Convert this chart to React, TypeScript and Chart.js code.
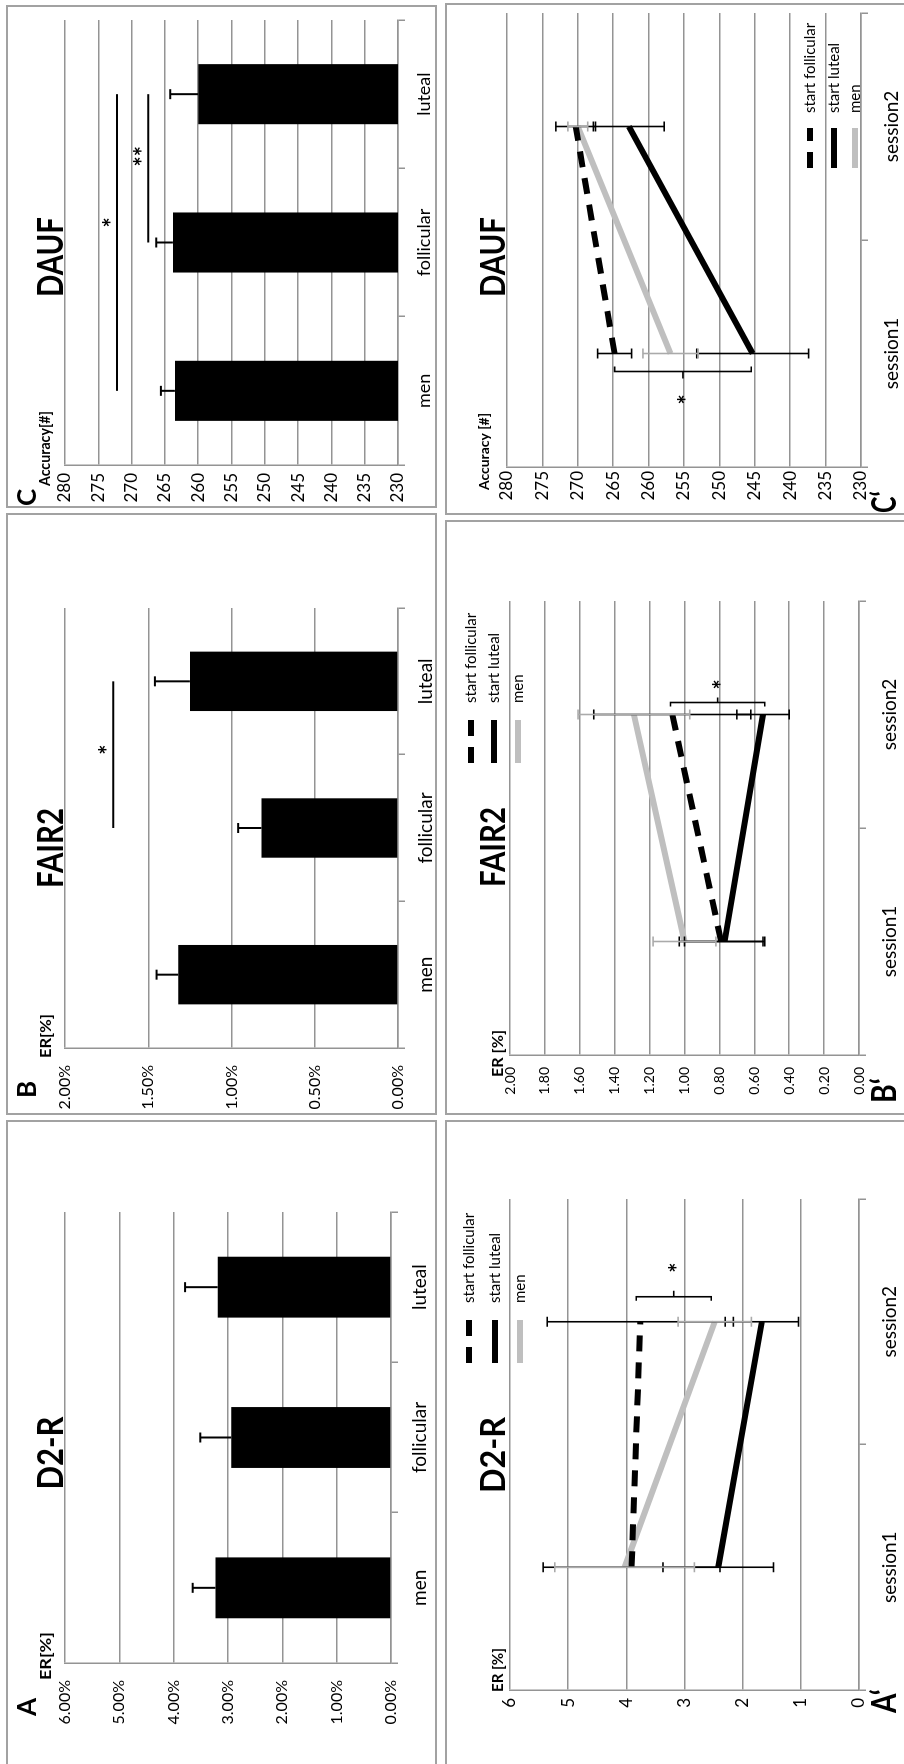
import React, { useEffect, useRef } from 'react';
import { Chart, registerables } from 'chart.js';

Chart.register(...registerables);
Chart.defaults.font.family = 'Lato, "Open Sans", sans-serif';

// ---------------- data ----------------
const barCategories = ['men', 'follicular', 'luteal'];
const sessionCategories = ['session1', 'session2'];
const seriesNames = ['start follicular', 'start luteal', 'men'];

// A: D2-R error rate [%]
const d2rBarMeans = [3.23, 2.94, 3.19];
const d2rBarErrors = [0.42, 0.57, 0.6];
// B: FAIR2 error rate [%]
const fair2BarMeans = [1.32, 0.82, 1.25];
const fair2BarErrors = [0.13, 0.14, 0.21];
// C: DAUF accuracy [#]
const daufBarMeans = [263.5, 263.8, 260.0];
const daufBarErrors = [2.1, 2.5, 4.2];

// A': D2-R sessions
const d2rFollicular = [3.91, 3.76];
const d2rFollicularErr = [1.52, 1.6];
const d2rLuteal = [2.42, 1.67];
const d2rLutealErr = [0.95, 0.63];
const d2rMen = [4.03, 2.48];
const d2rMenErr = [1.2, 0.63];
// B': FAIR2 sessions
const fair2Follicular = [0.79, 1.07];
const fair2FollicularErr = [0.24, 0.45];
const fair2Luteal = [0.77, 0.55];
const fair2LutealErr = [0.23, 0.15];
const fair2Men = [1.0, 1.29];
const fair2MenErr = [0.18, 0.32];
// C': DAUF sessions
const daufFollicular = [264.8, 270.3];
const daufFollicularErr = [2.4, 2.8];
const daufLuteal = [245.3, 262.8];
const daufLutealErr = [7.9, 5.0];
const daufMen = [256.9, 270.0];
const daufMenErr = [3.9, 1.4];

// tick values
const percentTicks6 = [0, 1, 2, 3, 4, 5, 6];
const percentTicks2 = [0, 0.5, 1, 1.5, 2];
const accuracyTicks = [230, 235, 240, 245, 250, 255, 260, 265, 270, 275, 280];
const erTicks6 = [0, 1, 2, 3, 4, 5, 6];
const erTicks2 = [0, 0.2, 0.4, 0.6, 0.8, 1.0, 1.2, 1.4, 1.6, 1.8, 2.0];

// significance annotations
const fair2BarSig = [{ from: 1, to: 2, value: 1.71, label: '*' }];
const daufBarSig = [
  { from: 0, to: 2, value: 272.2, label: '*' },
  { from: 1, to: 2, value: 267.5, label: '**' },
];
const d2rSessionSig = [{ index: 1, from: 3.83, to: 2.54, label: '*' }];
const fair2SessionSig = [{ index: 1, from: 1.08, to: 0.54, label: '*' }];
const daufSessionSig = [{ index: 0, from: 264.8, to: 245.5, label: '*' }];

// ---------------- styles ----------------
const GRID = '#949494';
const BORDER = '#a2a2a2';
const lineStyles = [
  { color: '#000000', dash: [16, 11], err: '#000000' },
  { color: '#000000', dash: [] as number[], err: '#000000' },
  { color: '#bfbfbf', dash: [] as number[], err: '#aaaaaa' },
];

type TextItem = { t: string; x: number; y: number; size: number; w?: number; center?: boolean; bold?: boolean };
type Box = { x: number; y: number; w: number; h: number };
type Area = { l: number; r: number; t: number; b: number };

interface PanelSpec {
  key: string;
  box: Box;
  area: Area;
  kind: 'bar' | 'line';
  categories: string[];
  yMin: number;
  yMax: number;
  yTicks: number[];
  yFormat: (v: number) => string;
  yTickFont: number;
  yTickPad: number;
  xTickFont: number;
  xTickPad: number;
  bars?: { values: number[]; errors: number[] };
  lines?: { values: number[][]; errors: number[][] };
  barSig?: { from: number; to: number; value: number; label: string }[];
  barSigDx?: number[];
  sessionSig?: { index: number; from: number; to: number; label: string }[];
  bracket?: { side: number; offset: number; prong: number; tick: number; star: number };
  legend?: { ys: number[]; sx1: number; sx2: number; tx: number };
  texts: TextItem[];
}

const pct = (v: number) => v.toFixed(2) + '%';

const panels: PanelSpec[] = [
  {
    key: 'A',
    box: { x: -4, y: 6, w: 648, h: 431 },
    area: { l: 101, r: 552, t: 65, b: 391 },
    kind: 'bar',
    categories: barCategories,
    yMin: 0, yMax: 6, yTicks: percentTicks6, yFormat: pct,
    yTickFont: 16, yTickPad: 17, xTickFont: 19, xTickPad: 10,
    bars: { values: d2rBarMeans, errors: d2rBarErrors },
    texts: [
      { t: 'A', x: 48, y: 36, size: 26, bold: true },
      { t: 'ER[%]', x: 84, y: 51, size: 16, bold: true, w: 48 },
      { t: 'D2-R', x: 311, y: 63, size: 36, bold: true, w: 73, center: true },
    ],
  },
  {
    key: 'B',
    box: { x: 649, y: 6, w: 602, h: 431 },
    area: { l: 716, r: 1156, t: 65, b: 398 },
    kind: 'bar',
    categories: barCategories,
    yMin: 0, yMax: 2, yTicks: percentTicks2, yFormat: pct,
    yTickFont: 16, yTickPad: 17, xTickFont: 19, xTickPad: 9,
    bars: { values: fair2BarMeans, errors: fair2BarErrors },
    barSig: fair2BarSig, barSigDx: [5],
    texts: [
      { t: 'B', x: 666, y: 36, size: 26, bold: true },
      { t: 'ER[%]', x: 706, y: 51, size: 16, bold: true, w: 44 },
      { t: 'FAIR2', x: 916, y: 63, size: 36, bold: true, w: 80, center: true },
    ],
  },
  {
    key: 'C',
    box: { x: 1256, y: 6, w: 503, h: 431 },
    area: { l: 1299, r: 1744, t: 65, b: 398 },
    kind: 'bar',
    categories: barCategories,
    yMin: 230, yMax: 280, yTicks: accuracyTicks, yFormat: (v) => String(Math.round(v)),
    yTickFont: 17, yTickPad: 8, xTickFont: 18, xTickPad: 8,
    bars: { values: daufBarMeans, errors: daufBarErrors },
    barSig: daufBarSig, barSigDx: [20, 12],
    texts: [
      { t: 'C', x: 1258, y: 36, size: 26, bold: true },
      { t: 'Accuracy[#]', x: 1278, y: 50, size: 15, bold: true, w: 75 },
      { t: 'DAUF', x: 1507, y: 63, size: 36, bold: true, w: 80, center: true },
    ],
  },
  {
    key: "A'",
    box: { x: -4, y: 445, w: 648, h: 470 },
    area: { l: 74, r: 565, t: 510, b: 859 },
    kind: 'line',
    categories: sessionCategories,
    yMin: 0, yMax: 6, yTicks: erTicks6, yFormat: (v) => String(Math.round(v)),
    yTickFont: 17, yTickPad: 8, xTickFont: 19, xTickPad: 12,
    lines: {
      values: [d2rFollicular, d2rLuteal, d2rMen],
      errors: [d2rFollicularErr, d2rLutealErr, d2rMenErr],
    },
    sessionSig: d2rSessionSig,
    bracket: { side: 1, offset: 25, prong: 4, tick: 6, star: 54 },
    legend: { ys: [469, 495, 520], sx1: 401, sx2: 444, tx: 461 },
    texts: [
      { t: 'A\u2018', x: 51, y: 896, size: 34, bold: true, w: 24 },
      { t: 'ER [%]', x: 72, y: 503, size: 16, bold: true, w: 44 },
      { t: 'D2-R', x: 309, y: 505, size: 35, bold: true, w: 76, center: true },
    ],
  },
  {
    key: "B'",
    box: { x: 649, y: 445, w: 595, h: 470 },
    area: { l: 709, r: 1163, t: 510, b: 859 },
    kind: 'line',
    categories: sessionCategories,
    yMin: 0, yMax: 2, yTicks: erTicks2, yFormat: (v) => v.toFixed(2),
    yTickFont: 14, yTickPad: 12, xTickFont: 19, xTickPad: 12,
    lines: {
      values: [fair2Follicular, fair2Luteal, fair2Men],
      errors: [fair2FollicularErr, fair2LutealErr, fair2MenErr],
    },
    sessionSig: fair2SessionSig,
    bracket: { side: 1, offset: 12, prong: 4, tick: 5, star: 30 },
    legend: { ys: [471, 494, 518], sx1: 1001, sx2: 1044, tx: 1061 },
    texts: [
      { t: 'B\u2018', x: 661, y: 896, size: 34, bold: true, w: 25 },
      { t: 'ER [%]', x: 687, y: 503, size: 16, bold: true, w: 47 },
      { t: 'FAIR2', x: 917, y: 505, size: 35, bold: true, w: 80, center: true },
    ],
  },
  {
    key: "C'",
    box: { x: 1249, y: 445, w: 512, h: 470 },
    area: { l: 1297, r: 1751, t: 507, b: 861 },
    kind: 'line',
    categories: sessionCategories,
    yMin: 230, yMax: 280, yTicks: accuracyTicks, yFormat: (v) => String(Math.round(v)),
    yTickFont: 17, yTickPad: 4, xTickFont: 19, xTickPad: 12,
    lines: {
      values: [daufFollicular, daufLuteal, daufMen],
      errors: [daufFollicularErr, daufLutealErr, daufMenErr],
    },
    sessionSig: daufSessionSig,
    bracket: { side: -1, offset: 18, prong: 5, tick: 7, star: 46 },
    legend: { ys: [810, 834, 855], sx1: 1596, sx2: 1636, tx: 1651 },
    texts: [
      { t: 'C\u2018', x: 1251, y: 896, size: 34, bold: true, w: 22 },
      { t: 'Accuracy [#]', x: 1274, y: 489, size: 14, bold: true, w: 77 },
      { t: 'DAUF', x: 1507, y: 505, size: 35, bold: true, w: 80, center: true },
    ],
  },
];

// ---------------- drawing helpers ----------------
function seg(ctx: CanvasRenderingContext2D, x1: number, y1: number, x2: number, y2: number) {
  ctx.beginPath();
  ctx.moveTo(x1, y1);
  ctx.lineTo(x2, y2);
  ctx.stroke();
}

function drawText(ctx: CanvasRenderingContext2D, item: TextItem, ox: number, oy: number) {
  ctx.save();
  ctx.font = `${item.bold ? 'bold ' : ''}${item.size}px Lato, "Open Sans", sans-serif`;
  ctx.fillStyle = '#000';
  ctx.textBaseline = 'alphabetic';
  ctx.textAlign = 'left';
  const m = ctx.measureText(item.t).width;
  const sx = item.w ? item.w / m : 1;
  const w = m * sx;
  const left = (item.center ? item.x - w / 2 : item.x) - ox;
  ctx.translate(left, item.y - oy);
  ctx.scale(sx, 1);
  ctx.fillText(item.t, 0, 0);
  ctx.restore();
}

function drawStar(ctx: CanvasRenderingContext2D, label: string, cx: number, cy: number) {
  ctx.save();
  ctx.font = 'bold 24px Lato, "Open Sans", sans-serif';
  ctx.fillStyle = '#000';
  ctx.textAlign = 'center';
  ctx.textBaseline = 'alphabetic';
  ctx.fillText(label, cx, cy + 13);
  ctx.restore();
}

function decorPlugin(p: PanelSpec) {
  return {
    id: 'decor',
    beforeDraw(chart: any) {
      const ctx: CanvasRenderingContext2D = chart.ctx;
      ctx.save();
      ctx.fillStyle = '#ffffff';
      ctx.fillRect(0, 0, chart.width, chart.height);
      ctx.strokeStyle = BORDER;
      ctx.lineWidth = 2;
      ctx.strokeRect(1, 1, chart.width - 2, chart.height - 2);
      ctx.restore();
    },
    afterDraw(chart: any) {
      const ctx: CanvasRenderingContext2D = chart.ctx;
      const xs = chart.scales.x;
      const ys = chart.scales.y;
      ctx.save();
      ctx.lineCap = 'butt';

      if (p.bars) {
        ctx.strokeStyle = '#000';
        ctx.lineWidth = 2;
        p.bars.values.forEach((v, i) => {
          const x = xs.getPixelForValue(i);
          const y0 = ys.getPixelForValue(v);
          const y1 = ys.getPixelForValue(v + p.bars!.errors[i]);
          seg(ctx, x, y0, x, y1);
          seg(ctx, x - 5, y1, x + 5, y1);
        });
      }

      if (p.barSig) {
        ctx.strokeStyle = '#000';
        ctx.lineWidth = 2;
        p.barSig.forEach((s, k) => {
          const x1 = xs.getPixelForValue(s.from);
          const x2 = xs.getPixelForValue(s.to);
          const y = ys.getPixelForValue(s.value);
          seg(ctx, x1, y, x2, y);
          const dx = p.barSigDx ? p.barSigDx[k] : 0;
          drawStar(ctx, s.label, (x1 + x2) / 2 + dx, y - 9);
        });
      }

      if (p.lines) {
        p.lines.values.forEach((vals, s) => {
          ctx.strokeStyle = lineStyles[s].err;
          ctx.lineWidth = 1.6;
          vals.forEach((v, i) => {
            const e = p.lines!.errors[s][i];
            const x = xs.getPixelForValue(i);
            const yHi = ys.getPixelForValue(v + e);
            const yLo = ys.getPixelForValue(v - e);
            seg(ctx, x, yHi, x, yLo);
            seg(ctx, x - 5, yHi, x + 5, yHi);
            seg(ctx, x - 5, yLo, x + 5, yLo);
          });
        });
      }

      if (p.sessionSig && p.bracket) {
        const b = p.bracket;
        ctx.strokeStyle = '#000';
        ctx.lineWidth = 1.6;
        p.sessionSig.forEach((s) => {
          const xc = xs.getPixelForValue(s.index);
          const x0 = xc + b.side * b.offset;
          const y1 = ys.getPixelForValue(s.from);
          const y2 = ys.getPixelForValue(s.to);
          const ym = (y1 + y2) / 2;
          ctx.beginPath();
          ctx.moveTo(x0 - b.side * b.prong, y1);
          ctx.lineTo(x0, y1);
          ctx.lineTo(x0, y2);
          ctx.lineTo(x0 - b.side * b.prong, y2);
          ctx.stroke();
          seg(ctx, x0, ym, x0 + b.side * b.tick, ym);
          drawStar(ctx, s.label, xc + b.side * b.star, ym);
        });
      }

      if (p.legend) {
        const L = p.legend;
        seriesNames.forEach((name, i) => {
          const y = L.ys[i] - p.box.y;
          ctx.save();
          ctx.strokeStyle = lineStyles[i].color;
          ctx.lineWidth = 6;
          ctx.setLineDash(lineStyles[i].dash);
          seg(ctx, L.sx1 - p.box.x, y, L.sx2 - p.box.x, y);
          ctx.restore();
          ctx.save();
          ctx.font = '15px Lato, "Open Sans", sans-serif';
          ctx.fillStyle = '#000';
          ctx.textAlign = 'left';
          ctx.textBaseline = 'middle';
          ctx.fillText(name, L.tx - p.box.x, y);
          ctx.restore();
        });
      }

      p.texts.forEach((t) => drawText(ctx, t, p.box.x, p.box.y));
      ctx.restore();
    },
  };
}

function makeConfig(p: PanelSpec): any {
  const relL = p.area.l - p.box.x;
  const relT = p.area.t - p.box.y;
  const relR = p.box.x + p.box.w - p.area.r;
  const relB = p.box.y + p.box.h - p.area.b;

  const datasets: any[] =
    p.kind === 'bar'
      ? [
          {
            type: 'bar',
            data: p.bars!.values,
            backgroundColor: '#000000',
            borderColor: '#000000',
            borderWidth: 0,
            barPercentage: 1,
            categoryPercentage: 0.405,
          },
        ]
      : p.lines!.values.map((vals, i) => ({
          type: 'line',
          label: seriesNames[i],
          data: vals,
          borderColor: lineStyles[i].color,
          borderWidth: 6,
          borderDash: lineStyles[i].dash,
          pointRadius: 0,
          pointHoverRadius: 0,
          fill: false,
          tension: 0,
        }));

  return {
    type: p.kind,
    data: { labels: p.categories, datasets },
    options: {
      responsive: false,
      maintainAspectRatio: false,
      animation: false,
      devicePixelRatio: 1,
      events: [],
      layout: { padding: { left: 0, top: relT, right: relR, bottom: 0 } },
      plugins: {
        legend: { display: false },
        title: { display: false },
        tooltip: { enabled: false },
      },
      scales: {
        x: {
          type: 'category',
          offset: true,
          grid: {
            offset: true,
            drawOnChartArea: false,
            drawTicks: true,
            tickLength: 7,
            color: GRID,
            lineWidth: 1.5,
          },
          border: { display: true, color: GRID, width: 1.5 },
          ticks: {
            color: '#000',
            font: { size: p.xTickFont },
            padding: p.xTickPad,
            maxRotation: 0,
            minRotation: 0,
            autoSkip: false,
          },
          afterFit: (s: any) => {
            s.height = relB;
          },
        },
        y: {
          type: 'linear',
          min: p.yMin,
          max: p.yMax,
          afterBuildTicks: (s: any) => {
            s.ticks = p.yTicks.map((v) => ({ value: v }));
          },
          grid: { drawTicks: false, color: GRID, lineWidth: 1.5 },
          border: { display: true, color: GRID, width: 1.5 },
          ticks: {
            color: '#000',
            font: { size: p.yTickFont },
            padding: p.yTickPad,
            callback: (v: any) => p.yFormat(Number(v)),
          },
          afterFit: (s: any) => {
            s.width = relL;
          },
        },
      },
    },
    plugins: [decorPlugin(p)],
  };
}

function Panel({ spec }: { spec: PanelSpec }) {
  const ref = useRef<HTMLCanvasElement | null>(null);
  useEffect(() => {
    if (!ref.current) return;
    const chart = new Chart(ref.current, makeConfig(spec));
    return () => chart.destroy();
  }, [spec]);
  return (
    <canvas
      ref={ref}
      width={spec.box.w}
      height={spec.box.h}
      style={{
        position: 'absolute',
        left: spec.box.x,
        top: spec.box.y,
        width: spec.box.w,
        height: spec.box.h,
      }}
    />
  );
}

export default function App() {
  return (
    <div
      style={{
        position: 'absolute',
        left: 0,
        top: 0,
        width: 904,
        height: 1764,
        overflow: 'hidden',
        background: '#ffffff',
      }}
    >
      <div
        style={{
          position: 'absolute',
          left: 0,
          top: 0,
          width: 1764,
          height: 904,
          transformOrigin: '0 0',
          transform: 'translate(0px, 1764px) rotate(-90deg)',
        }}
      >
        {panels.map((p) => (
          <Panel key={p.key} spec={p} />
        ))}
      </div>
    </div>
  );
}
